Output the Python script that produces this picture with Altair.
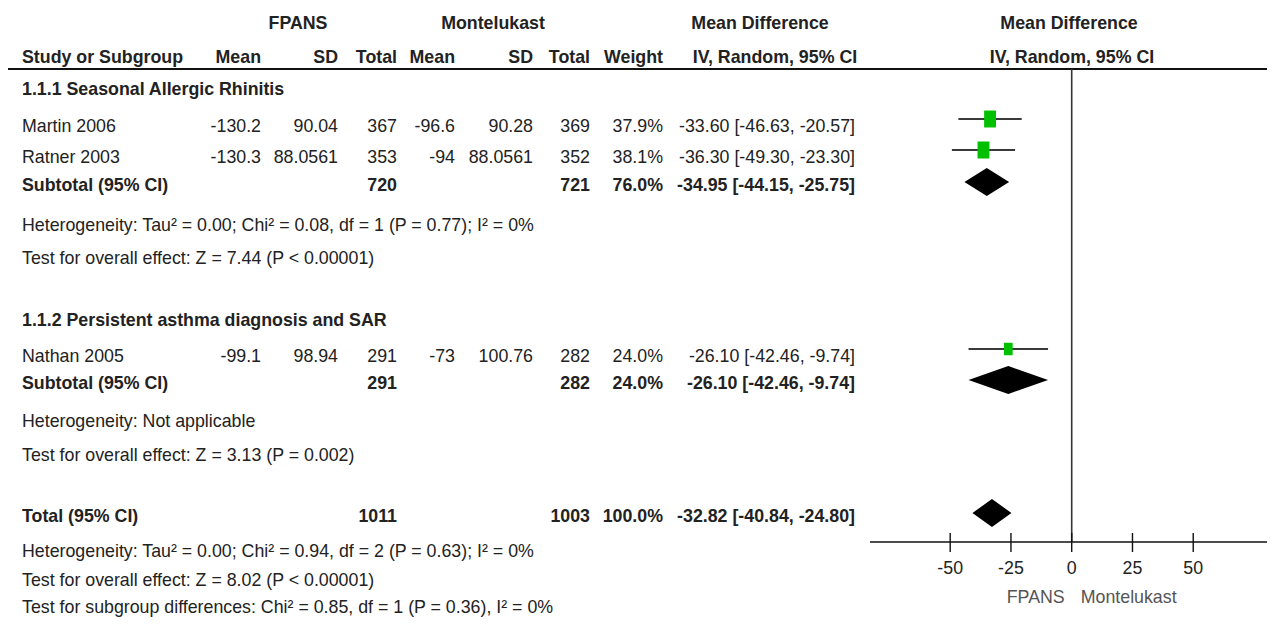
import altair as alt
import pandas as pd

# ---------------- data ----------------
studies = ["Martin 2006", "Ratner 2003", "Nathan 2005"]
fp_mean = [-130.2, -130.3, -99.1]
fp_sd = [90.04, 88.0561, 98.94]
fp_total = [367, 353, 291]
mo_mean = [-96.6, -94, -73]
mo_sd = [90.28, 88.0561, 100.76]
mo_total = [369, 352, 282]
weights = [37.9, 38.1, 24.0]
md = [-33.60, -36.30, -26.10]
md_lo = [-46.63, -49.30, -42.46]
md_hi = [-20.57, -23.30, -9.74]

groups = ["1.1.1 Seasonal Allergic Rhinitis", "1.1.2 Persistent asthma diagnosis and SAR"]
sub_fp_total = [720, 291]
sub_mo_total = [721, 282]
sub_weight = [76.0, 24.0]
sub_md = [-34.95, -26.10]
sub_lo = [-44.15, -42.46]
sub_hi = [-25.75, -9.74]
sub_het = ["Heterogeneity: Tau² = 0.00; Chi² = 0.08, df = 1 (P = 0.77); I² = 0%",
           "Heterogeneity: Not applicable"]
sub_test = ["Test for overall effect: Z = 7.44 (P < 0.00001)",
            "Test for overall effect: Z = 3.13 (P = 0.002)"]

tot_fp_total = 1011
tot_mo_total = 1003
tot_weight = 100.0
tot_md, tot_lo, tot_hi = -32.82, -40.84, -24.80
tot_notes = ["Heterogeneity: Tau² = 0.00; Chi² = 0.94, df = 2 (P = 0.63); I² = 0%",
             "Test for overall effect: Z = 8.02 (P < 0.00001)",
             "Test for subgroup differences: Chi² = 0.85, df = 1 (P = 0.36), I² = 0%"]

ticks = [-50, -25, 0, 25, 50]
fav_left, fav_right = "FPANS", "Montelukast"

# ---------------- layout ----------------
FONT = "Liberation Sans"
FS = 17.8
TXT = "#222222"
COL = dict(label=22, fp_mean=261, fp_sd=338, fp_total=397, mo_mean=455,
           mo_sd=533, mo_total=590, weight=663, ci=855)
H1_Y, H2_Y, HLINE_Y = 23, 57, 69
# rows: g1, s1, s2, sub1, het1, test1, g2, s3, sub2, het2, test2, total, het3, test3, sg
ROW_Y = [89, 126, 157, 185, 225, 258, 320, 356, 383, 421, 455, 516, 551, 580, 607]
STUDY_ROWS = [1, 2, 7]
SUB_ROWS = [3, 8]
TOT_ROW = 11
STUDY_DY = -7
DIAM_DY = -3
DIAM_H = 14
AXIS_Y, TICK_TOP, TICK_BOT, TICKLAB_Y, FAV_Y = 542, 533, 552, 568, 597
XDOM = [-83, 82]
XRANGE = [862, 1263]
W, H = 1259, 609

PXX = alt.Scale(domain=[8, 8 + W], range=[0, W], nice=False, zero=False)
PXY = alt.Scale(domain=[8, 8 + H], range=[0, H], nice=False, zero=False)
XS = alt.Scale(domain=XDOM, range=XRANGE, nice=False, zero=False)


def fmt(v):
    return str(v)


def ci_txt(m, lo, hi):
    return f"{m:.2f} [{lo:.2f}, {hi:.2f}]"


items = []


def add(t, x, y, align="left", bold=False):
    items.append(dict(t=t, x=x, y=y + 1, align=align, bold=bold))


# headers
add("FPANS", 298, H1_Y, "center", True)
add("Montelukast", 493, H1_Y, "center", True)
add("Mean Difference", 760, H1_Y, "center", True)
add("Mean Difference", 1069, H1_Y, "center", True)
add("Study or Subgroup", COL["label"], H2_Y, "left", True)
for key, lab in [("fp_mean", "Mean"), ("fp_sd", "SD"), ("fp_total", "Total"),
                 ("mo_mean", "Mean"), ("mo_sd", "SD"), ("mo_total", "Total"),
                 ("weight", "Weight")]:
    add(lab, COL[key], H2_Y, "right", True)
add("IV, Random, 95% CI", 775, H2_Y, "center", True)
add("IV, Random, 95% CI", 1072, H2_Y, "center", True)

# groups
group_rows = [0, 6]
for g, gname in enumerate(groups):
    add(gname, COL["label"], ROW_Y[group_rows[g]], "left", True)
    add(sub_het[g], COL["label"], ROW_Y[SUB_ROWS[g] + 1])
    add(sub_test[g], COL["label"], ROW_Y[SUB_ROWS[g] + 2])
    y = ROW_Y[SUB_ROWS[g]]
    add("Subtotal (95% CI)", COL["label"], y, "left", True)
    add(fmt(sub_fp_total[g]), COL["fp_total"], y, "right", True)
    add(fmt(sub_mo_total[g]), COL["mo_total"], y, "right", True)
    add(f"{sub_weight[g]:.1f}%", COL["weight"], y, "right", True)
    add(ci_txt(sub_md[g], sub_lo[g], sub_hi[g]), COL["ci"], y, "right", True)

for i, s in enumerate(studies):
    y = ROW_Y[STUDY_ROWS[i]]
    add(s, COL["label"], y)
    add(fmt(fp_mean[i]), COL["fp_mean"], y, "right")
    add(fmt(fp_sd[i]), COL["fp_sd"], y, "right")
    add(fmt(fp_total[i]), COL["fp_total"], y, "right")
    add(fmt(mo_mean[i]), COL["mo_mean"], y, "right")
    add(fmt(mo_sd[i]), COL["mo_sd"], y, "right")
    add(fmt(mo_total[i]), COL["mo_total"], y, "right")
    add(f"{weights[i]:.1f}%", COL["weight"], y, "right")
    add(ci_txt(md[i], md_lo[i], md_hi[i]), COL["ci"], y, "right")

y = ROW_Y[TOT_ROW]
add("Total (95% CI)", COL["label"], y, "left", True)
add(fmt(tot_fp_total), COL["fp_total"], y, "right", True)
add(fmt(tot_mo_total), COL["mo_total"], y, "right", True)
add(f"{tot_weight:.1f}%", COL["weight"], y, "right", True)
add(ci_txt(tot_md, tot_lo, tot_hi), COL["ci"], y, "right", True)
for k, note in enumerate(tot_notes):
    add(note, COL["label"], ROW_Y[TOT_ROW + 1 + k])

tdf = pd.DataFrame(items)

layers = []
for al in ["left", "right", "center"]:
    for b in [False, True]:
        sub = tdf[(tdf["align"] == al) & (tdf["bold"] == b)][["t", "x", "y"]]
        if len(sub) == 0:
            continue
        layers.append(
            alt.Chart(sub).mark_text(align=al, baseline="middle", font=FONT, fontSize=FS,
                                     fontWeight="bold" if b else "normal", color=TXT)
            .encode(x=alt.X("x:Q", scale=PXX, axis=None),
                    y=alt.Y("y:Q", scale=PXY, axis=None),
                    text="t:N")
        )

# header rule
hdf = pd.DataFrame({"x1": [6], "x2": [8 + W], "y": [HLINE_Y]})
layers.append(alt.Chart(hdf).mark_rule(color="#111", strokeWidth=2)
              .encode(x=alt.X("x1:Q", scale=PXX, axis=None), x2="x2:Q",
                      y=alt.Y("y:Q", scale=PXY, axis=None)))

# zero line
zdf = pd.DataFrame({"v": [0], "y1": [HLINE_Y], "y2": [AXIS_Y]})
layers.append(alt.Chart(zdf).mark_rule(color="#333", strokeWidth=1.6)
              .encode(x=alt.X("v:Q", scale=XS, axis=None),
                      y=alt.Y("y1:Q", scale=PXY, axis=None), y2="y2:Q"))

# axis line + ticks + labels
adf = pd.DataFrame({"a": [XDOM[0]], "b": [XDOM[1]], "y": [AXIS_Y]})
layers.append(alt.Chart(adf).mark_rule(color="#111", strokeWidth=1.4)
              .encode(x=alt.X("a:Q", scale=XS, axis=None), x2="b:Q",
                      y=alt.Y("y:Q", scale=PXY, axis=None)))
kdf = pd.DataFrame({"v": ticks, "y1": [TICK_TOP] * len(ticks), "y2": [TICK_BOT] * len(ticks),
                    "ly": [TICKLAB_Y + 1] * len(ticks), "lab": [str(t) for t in ticks]})
layers.append(alt.Chart(kdf).mark_rule(color="#111", strokeWidth=1.4)
              .encode(x=alt.X("v:Q", scale=XS, axis=None),
                      y=alt.Y("y1:Q", scale=PXY, axis=None), y2="y2:Q"))
layers.append(alt.Chart(kdf).mark_text(align="center", baseline="middle", font=FONT,
                                       fontSize=FS, color=TXT)
              .encode(x=alt.X("v:Q", scale=XS, axis=None),
                      y=alt.Y("ly:Q", scale=PXY, axis=None), text="lab:N"))
fdf = pd.DataFrame({"v": [0], "y": [FAV_Y + 1], "l": [fav_left], "r": [fav_right]})
layers.append(alt.Chart(fdf).mark_text(align="right", baseline="middle", font=FONT,
                                       fontSize=FS, color="#555", dx=-7)
              .encode(x=alt.X("v:Q", scale=XS, axis=None),
                      y=alt.Y("y:Q", scale=PXY, axis=None), text="l:N"))
layers.append(alt.Chart(fdf).mark_text(align="left", baseline="middle", font=FONT,
                                       fontSize=FS, color="#555", dx=9)
              .encode(x=alt.X("v:Q", scale=XS, axis=None),
                      y=alt.Y("y:Q", scale=PXY, axis=None), text="r:N"))

# study CIs and squares
sdf = pd.DataFrame({"md": md, "lo": md_lo, "hi": md_hi, "w": weights,
                    "y": [ROW_Y[r] + STUDY_DY for r in STUDY_ROWS]})
layers.append(alt.Chart(sdf).mark_rule(color="#3a3a3a", strokeWidth=1.8)
              .encode(x=alt.X("lo:Q", scale=XS, axis=None), x2="hi:Q",
                      y=alt.Y("y:Q", scale=PXY, axis=None)))
RECT = "M-0.7,-1L0.7,-1L0.7,1L-0.7,1Z"
layers.append(alt.Chart(sdf).mark_point(shape=RECT, filled=True, color="#00C000",
                                        opacity=1, strokeWidth=0)
              .encode(x=alt.X("md:Q", scale=XS, axis=None),
                      y=alt.Y("y:Q", scale=PXY, axis=None),
                      size=alt.Size("w:Q", scale=alt.Scale(domain=[24, 38.1], range=[156, 289]),
                                    legend=None)))

# diamonds
drows = []
d_md = sub_md + [tot_md]
d_lo = sub_lo + [tot_lo]
d_hi = sub_hi + [tot_hi]
d_rows = SUB_ROWS + [TOT_ROW]
for k in range(3):
    yc = ROW_Y[d_rows[k]] + DIAM_DY
    drows.append(dict(g=k, v=d_lo[k], yt=yc, yb=yc))
    drows.append(dict(g=k, v=d_md[k], yt=yc - DIAM_H, yb=yc + DIAM_H))
    drows.append(dict(g=k, v=d_hi[k], yt=yc, yb=yc))
ddf = pd.DataFrame(drows)
layers.append(alt.Chart(ddf).mark_area(color="black", opacity=1, interpolate="linear")
              .encode(x=alt.X("v:Q", scale=XS, axis=None),
                      y=alt.Y("yt:Q", scale=PXY, axis=None), y2="yb:Q",
                      detail="g:N"))

chart = (alt.layer(*layers)
         .resolve_scale(x="independent")
         .properties(width=W, height=H, padding=0, background="white",
                     autosize=alt.AutoSizeParams(type="none"))
         .configure_view(stroke=None))

chart.save("out.html", embed_options={"renderer": "svg", "actions": False})
